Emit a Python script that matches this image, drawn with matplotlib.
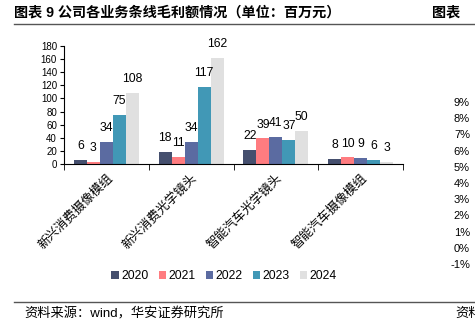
import matplotlib.pyplot as plt
import numpy as np
from matplotlib.lines import Line2D

plt.rcParams['font.family'] = ['Liberation Sans', 'Noto Sans CJK SC', 'DejaVu Sans']

# Data
categories = ["新兴消费摄像模组", "新兴消费光学镜头", "智能汽车光学镜头", "智能汽车摄像模组"]
years = ["2020", "2021", "2022", "2023", "2024"]
values = {
    "2020": [6, 18, 22, 8],
    "2021": [3, 11, 39, 10],
    "2022": [34, 34, 41, 9],
    "2023": [75, 117, 37, 6],
    "2024": [108, 162, 50, 3],
}
colors = ["#454f6e", "#ff7c80", "#5b6ba1", "#4198b6", "#e0e0e0"]
pct_ticks = [-1, 0, 1, 2, 3, 4, 5, 6, 7, 8, 9]

W, H = 475, 327
fig = plt.figure(figsize=(W / 100, H / 100), dpi=100)

ax = fig.add_axes([64 / W, 1 - 164 / H, (403 - 64) / W, (164 - 46) / H])
x = np.arange(len(categories))
bw = 0.153
for i, yr in enumerate(years):
    pos = x + (i - 2) * bw
    bars = ax.bar(pos, values[yr], width=bw, color=colors[i], label=yr, zorder=2)
    for b, v in zip(bars, values[yr]):
        ax.annotate(str(v), (b.get_x() + b.get_width() / 2, v), xytext=(0, 10),
                    textcoords="offset points", ha="center", va="center", fontsize=8.7)

ax.set_xlim(-0.5, len(categories) - 0.5)
ax.set_ylim(0, 180)
ax.set_yticks(range(0, 181, 20))
ax.tick_params(axis="y", labelsize=7, length=3, pad=2)
ax.set_xticks(x)
ax.set_xticklabels(categories, rotation=45, ha="right", va="top", fontsize=9,
                   rotation_mode="anchor")
ax.tick_params(axis="x", length=0, pad=6)
ax.set_xticks(np.arange(-0.5, len(categories)), minor=True)
ax.tick_params(axis="x", which="minor", length=4)
for s in ["top", "right"]:
    ax.spines[s].set_visible(False)
ax.spines["left"].set_linewidth(0.8)
ax.spines["bottom"].set_linewidth(0.8)

fig.legend(loc="center", bbox_to_anchor=(224 / W, 1 - 276 / H), ncol=5, frameon=False,
           fontsize=8.7, handlelength=0.6, handleheight=0.6, handletextpad=0.2,
           columnspacing=0.85)

# right-hand percent axis of the neighbouring chart
ax2 = fig.add_axes([470 / W, 1 - 264 / H, 0.001, (264 - 102) / H])
ax2.set_ylim(-1, 9)
ax2.set_yticks(pct_ticks)
ax2.set_yticklabels([f"{t}%" for t in pct_ticks], fontsize=8)
ax2.tick_params(axis="y", length=0, pad=0)
ax2.set_xticks([])
for s in ax2.spines.values():
    s.set_visible(False)

# titles, rules and source
fig.text(14 / W, 1 - 12 / H, "图表 9 公司各业务条线毛利额情况（单位：百万元）",
         fontsize=10.2, fontweight="bold", va="center", ha="left")
fig.text(432 / W, 1 - 12 / H, "图表", fontsize=10.2, fontweight="bold", va="center", ha="left")
fig.add_artist(Line2D([14 / W, 1], [1 - 24 / H] * 2, color="#555555", lw=1))
fig.add_artist(Line2D([14 / W, 1], [1 - 302 / H] * 2, color="#555555", lw=1))
fig.text(24 / W, 1 - 314 / H, "资料来源：wind，华安证券研究所", fontsize=9.5,
         va="center", ha="left")
fig.text(455 / W, 1 - 314 / H, "资料", fontsize=9.5, va="center", ha="left")

plt.savefig("out.png", dpi=100)
